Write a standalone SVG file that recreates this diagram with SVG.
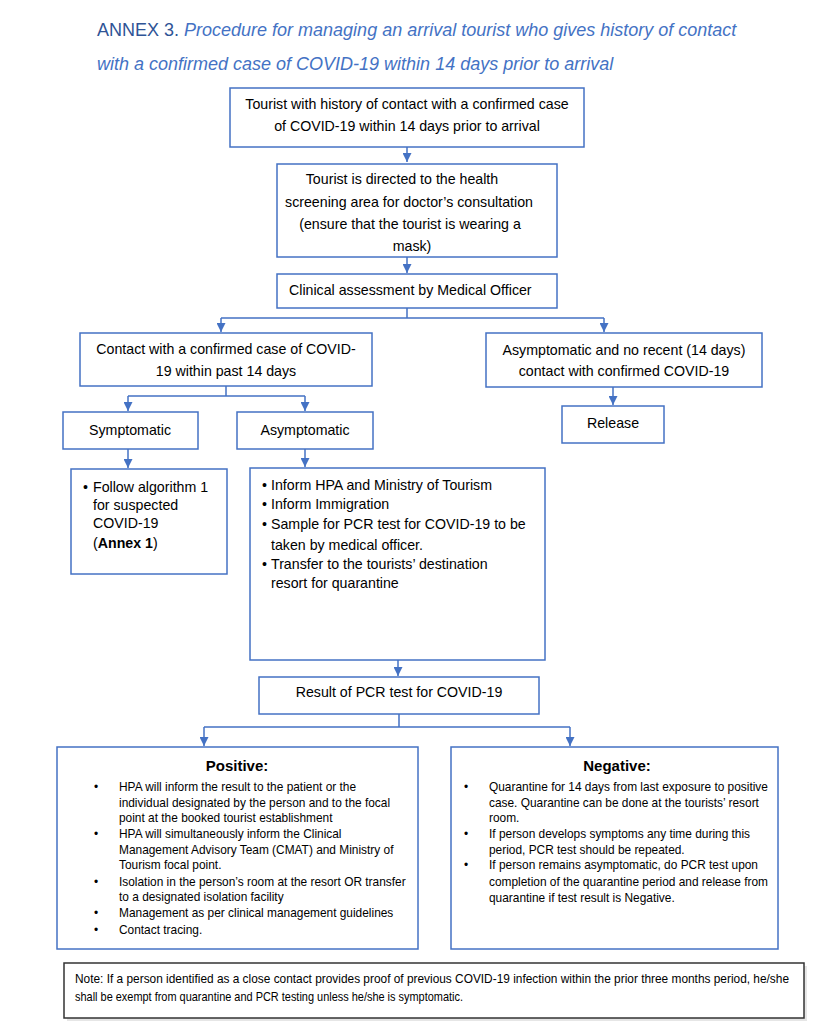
<svg xmlns="http://www.w3.org/2000/svg" width="833" height="1024" viewBox="0 0 833 1024">
<defs>
<marker id="a" viewBox="0 0 10 10" refX="10" refY="5" markerWidth="9" markerHeight="9" orient="auto" markerUnits="userSpaceOnUse">
<path d="M0,0 L10,5 L0,10 z" fill="#4472C4"/>
</marker>
<style>
.b{fill:#fff;stroke:#4472C4;stroke-width:1.5}
.t{font-family:"Liberation Sans",Arial,sans-serif;font-size:14.2px;fill:#000}
.c{text-anchor:middle}
.s{font-family:"Liberation Sans",Arial,sans-serif;font-size:11.9px;fill:#000}
.h{font-family:"Liberation Sans",Arial,sans-serif;font-size:15px;font-weight:bold;text-anchor:middle;fill:#000}
.l{fill:none;stroke:#4472C4;stroke-width:1.5}
</style>
</defs>
<rect width="833" height="1024" fill="#fff"/>
<g id="title">
<text x="97" y="36" font-family="Liberation Sans,Arial,sans-serif" font-size="18" fill="#2F5496">ANNEX 3. <tspan font-style="italic" fill="#4472C4">Procedure for managing an arrival tourist who gives history of contact</tspan></text>
<text x="97" y="70" font-family="Liberation Sans,Arial,sans-serif" font-size="18" font-style="italic" fill="#4472C4">with a confirmed case of COVID-19 within 14 days prior to arrival</text>
</g>
<g id="connectors">
<path class="l" d="M407,147 V162" marker-end="url(#a)"/>
<path class="l" d="M407,257 V273" marker-end="url(#a)"/>
<path class="l" d="M407,308 V318 M221,318 H604"/>
<path class="l" d="M221,318 V332" marker-end="url(#a)"/>
<path class="l" d="M604,318 V332" marker-end="url(#a)"/>
<path class="l" d="M613,387 V405" marker-end="url(#a)"/>
<path class="l" d="M226,386 V396 M128,396 H305"/>
<path class="l" d="M128,396 V411" marker-end="url(#a)"/>
<path class="l" d="M305,396 V411" marker-end="url(#a)"/>
<path class="l" d="M128,449 V468" marker-end="url(#a)"/>
<path class="l" d="M305,449 V467" marker-end="url(#a)"/>
<path class="l" d="M398,660 V676" marker-end="url(#a)"/>
<path class="l" d="M399,714 V727 M204,727 H570"/>
<path class="l" d="M204,727 V746" marker-end="url(#a)"/>
<path class="l" d="M570,727 V746" marker-end="url(#a)"/>
</g>
<g id="n1">
<rect class="b" x="230" y="88" width="354" height="59"/>
<text class="t c" x="407" y="109">Tourist with history of contact with a confirmed case</text>
<text class="t c" x="407" y="131">of COVID-19 within 14 days prior to arrival</text>
</g>
<g id="n2">
<rect class="b" x="277" y="164" width="280" height="93"/>
<text class="t c" x="402" y="184">Tourist is directed to the health</text>
<text class="t c" x="409" y="207">screening area for doctor’s consultation</text>
<text class="t c" x="410" y="229">(ensure that the tourist is wearing a</text>
<text class="t c" x="412" y="251">mask)</text>
</g>
<g id="n3">
<rect class="b" x="277" y="274" width="280" height="34"/>
<text class="t" x="289" y="295">Clinical assessment by Medical Officer</text>
</g>
<g id="n4">
<rect class="b" x="80" y="333" width="292" height="53"/>
<text class="t c" x="226" y="354">Contact with a confirmed case of COVID-</text>
<text class="t c" x="226" y="376">19 within past 14 days</text>
</g>
<g id="n5">
<rect class="b" x="486" y="333" width="276" height="54"/>
<text class="t c" x="624" y="355">Asymptomatic and no recent (14 days)</text>
<text class="t c" x="624" y="376">contact with confirmed COVID-19</text>
</g>
<g id="n6">
<rect class="b" x="562" y="406" width="102" height="37"/>
<text class="t c" x="613" y="428">Release</text>
</g>
<g id="n7">
<rect class="b" x="63" y="412" width="135" height="37"/>
<text class="t c" x="130" y="435">Symptomatic</text>
</g>
<g id="n8">
<rect class="b" x="237" y="412" width="136" height="37"/>
<text class="t c" x="305" y="435">Asymptomatic</text>
</g>
<g id="n9">
<rect class="b" x="71" y="469" width="156" height="105"/>
<text class="t" x="83" y="492">•</text>
<text class="t" x="93" y="492">Follow algorithm 1</text>
<text class="t" x="93" y="510">for suspected</text>
<text class="t" x="93" y="528">COVID-19</text>
<text class="t" x="93" y="548">(<tspan font-weight="bold">Annex 1</tspan>)</text>
</g>
<g id="n10">
<rect class="b" x="250" y="468" width="295" height="192"/>
<text class="t" x="262" y="490">•</text><text class="t" x="271" y="490">Inform HPA and Ministry of Tourism</text>
<text class="t" x="262" y="509">•</text><text class="t" x="271" y="509">Inform Immigration</text>
<text class="t" x="262" y="529">•</text><text class="t" x="271" y="529">Sample for PCR test for COVID-19 to be</text>
<text class="t" x="271" y="550">taken by medical officer.</text>
<text class="t" x="262" y="569">•</text><text class="t" x="271" y="569">Transfer to the tourists’ destination</text>
<text class="t" x="271" y="588">resort for quarantine</text>
</g>
<g id="n11">
<rect class="b" x="259" y="677" width="280" height="37"/>
<text class="t c" x="399" y="697">Result of PCR test for COVID-19</text>
</g>
<g id="n12">
<rect class="b" x="57" y="747" width="361" height="202"/>
<text class="h" x="237" y="771">Positive:</text>
<g class="s">
<text x="94" y="791">•</text><text x="119" y="791">HPA will inform the result to the patient or the</text>
<text x="119" y="807">individual designated by the person and to the focal</text>
<text x="119" y="822">point at the booked tourist establishment</text>
<text x="94" y="838">•</text><text x="119" y="838">HPA will simultaneously inform the Clinical</text>
<text x="119" y="854">Management Advisory Team (CMAT) and Ministry of</text>
<text x="119" y="869">Tourism focal point.</text>
<text x="94" y="886">•</text><text x="119" y="886">Isolation in the person’s room at the resort OR transfer</text>
<text x="119" y="901">to a designated isolation facility</text>
<text x="94" y="917">•</text><text x="119" y="917">Management as per clinical management guidelines</text>
<text x="94" y="934">•</text><text x="119" y="934">Contact tracing.</text>
</g>
</g>
<g id="n13">
<rect class="b" x="451" y="747" width="327" height="202"/>
<text class="h" x="617" y="771">Negative:</text>
<g class="s">
<text x="464" y="791">•</text><text x="489" y="791">Quarantine for 14 days from last exposure to positive</text>
<text x="489" y="807">case. Quarantine can be done at the tourists’ resort</text>
<text x="489" y="822">room.</text>
<text x="464" y="838">•</text><text x="489" y="838">If person develops symptoms any time during this</text>
<text x="489" y="854">period, PCR test should be repeated.</text>
<text x="464" y="869">•</text><text x="489" y="869">If person remains asymptomatic, do PCR test upon</text>
<text x="489" y="886">completion of the quarantine period and release from</text>
<text x="489" y="902">quarantine if test result is Negative.</text>
</g>
</g>
<g id="note">
<rect x="67" y="966" width="740" height="55" fill="#e6e6e6"/>
<rect x="64" y="963" width="740" height="55" fill="#fff" stroke="#333" stroke-width="1.5"/>
<text class="s" x="75" y="983" font-size="10" textLength="714" lengthAdjust="spacingAndGlyphs">Note: If a person identified as a close contact provides proof of previous COVID-19 infection within the prior three months period, he/she</text>
<text class="s" x="75" y="1001" font-size="10" textLength="388" lengthAdjust="spacingAndGlyphs">shall be exempt from quarantine and PCR testing unless he/she is symptomatic.</text>
</g>
</svg>
